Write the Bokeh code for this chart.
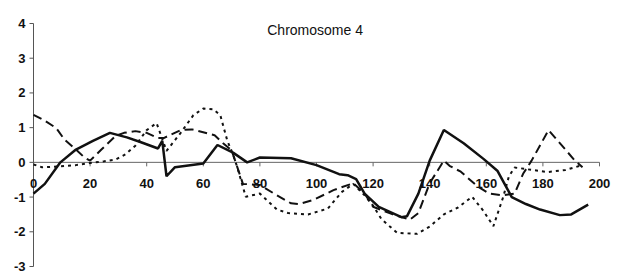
import math
from bokeh.plotting import figure
from bokeh.models import Range1d, Label
from bokeh.embed import file_html
from bokeh.resources import INLINE
from bokeh.core.properties import value

# ---- data (position in cM, LOD-like score) ----
solid_x = [0, 4, 9.5, 15, 21, 27, 33, 38, 44, 45.5, 47, 50, 60, 65, 70.5, 75.5, 80, 91,
           100, 108, 111, 114, 117, 122, 130, 132, 136, 140, 145, 152, 159, 164, 169,
           174, 179, 186, 190, 196]
solid_y = [-0.9, -0.62, 0.0, 0.37, 0.62, 0.85, 0.72, 0.58, 0.4, 0.62, -0.4, -0.14, -0.03,
           0.5, 0.28, 0.0, 0.14, 0.12, -0.08, -0.34, -0.37, -0.48, -0.9, -1.28, -1.58,
           -1.55, -0.9, 0.05, 0.93, 0.55, 0.1, -0.25, -1.0, -1.2, -1.36, -1.52, -1.5, -1.22]

dash_x = [0, 4, 8, 11, 15, 18, 20, 24, 29, 32, 36, 40, 44, 46, 52, 56, 64, 67, 70, 74,
          80, 85, 91, 94, 99, 106, 113, 117, 120, 127, 133, 136, 140, 145, 147, 151, 157,
          161, 166, 170, 173, 176, 182, 191, 194]
dash_y = [1.37, 1.2, 0.99, 0.65, 0.37, 0.14, 0.05, 0.37, 0.76, 0.85, 0.9, 0.85, 0.7, 0.7,
          0.93, 0.95, 0.78, 0.55, 0.35, -0.62, -0.65, -0.9, -1.18, -1.2, -1.08, -0.8, -0.6,
          -0.9, -1.28, -1.5, -1.65, -1.46, -0.6, 0.05, -0.1, -0.27, -0.7, -0.9, -0.95, -0.9,
          -0.33, 0.05, 0.93, 0.08, -0.14]

dot_x = [0, 3, 9, 15, 20, 25, 29, 32.5, 36, 40, 43.5, 47, 52, 56.5, 60, 63.5, 66, 68.5,
         70.5, 72, 75, 80, 86, 90, 97, 104, 109, 113, 117, 120, 123, 128.5, 135.5, 140,
         145, 150, 155, 159, 162.5, 166, 168, 170, 172, 181.5, 188, 194]
dot_y = [-0.06, -0.14, -0.12, -0.08, -0.02, 0.03, 0.08, 0.23, 0.48, 0.93, 1.13, 0.33, 0.85,
         1.36, 1.55, 1.53, 1.36, 0.62, 0.23, -0.14, -0.99, -0.9, -1.36, -1.46, -1.5, -1.33,
         -0.85, -0.62, -0.95, -1.25, -1.64, -2.03, -2.06, -1.85, -1.5, -1.3, -0.99, -1.4,
         -1.84, -0.99, -0.4, -0.15, -0.17, -0.28, -0.22, -0.08]

x_ticks = [0, 20, 40, 60, 80, 100, 120, 140, 160, 180, 200]
x_labels = ["0", "20", "40", "60", "80", "100", "120", "140", "160", "180", "200"]
y_ticks = [-3, -2, -1, 0, 1, 2, 3, 4]
y_labels = ["-3", "-2", "-1", "0", "1", "2", "3", "4"]
title_text = "Chromosome 4"

FONT = "Liberation Sans"
W, H = 613, 274
X0_PX, X200_PX = 33.0, 599.0          # where x=0 and x=200 sit
YTOP_PX, YBOT_PX = 23.0, 266.0        # where y=4 and y=-3 sit
sx = (X200_PX - X0_PX) / (x_ticks[-1] - x_ticks[0])
sy = (YBOT_PX - YTOP_PX) / (y_ticks[-1] - y_ticks[0])
xr = Range1d(x_ticks[0] - X0_PX / sx, x_ticks[0] + (W - X0_PX) / sx)
yr = Range1d(y_ticks[0] - (H - YBOT_PX) / sy, y_ticks[-1] + YTOP_PX / sy)

p = figure(width=W, height=H, x_range=xr, y_range=yr,
           output_backend="svg", toolbar_location=None,
           x_axis_location=None, y_axis_location=None,
           min_border_left=0, min_border_right=0, min_border_top=0, min_border_bottom=0)
p.outline_line_color = None
p.grid.visible = False
p.background_fill_color = "white"
p.border_fill_color = "white"

AX = "#555555"
# y axis along x = 0
p.segment(x0=[x_ticks[0]], y0=[y_ticks[0]], x1=[x_ticks[0]], y1=[y_ticks[-1]],
          line_color=AX, line_width=1)
p.ray(x=[x_ticks[0]] * len(y_ticks), y=y_ticks, length=4, length_units="screen",
      angle=math.pi, line_color=AX, line_width=1)
p.text(x=[x_ticks[0]] * len(y_ticks), y=y_ticks, text=y_labels, x_offset=-8,
       text_align="right", text_baseline="middle", text_font=value(FONT),
       text_font_style="bold", text_font_size="13px", text_color="#111111")

# x axis drawn through y = 0
p.segment(x0=[x_ticks[0]], y0=[0], x1=[x_ticks[-1]], y1=[0], line_color="#666666",
          line_width=1)
p.ray(x=x_ticks[1:], y=[0] * (len(x_ticks) - 1), length=4, length_units="screen",
      angle=-math.pi / 2, line_color="#666666", line_width=1)
p.text(x=x_ticks, y=[0] * len(x_ticks), text=x_labels, y_offset=21,
       text_align="center", text_baseline="middle", text_font=value(FONT),
       text_font_style="bold", text_font_size="13px", text_color="#111111")

p.line(dot_x, dot_y, line_color="#111111", line_width=2, line_dash="3 4")
p.line(dash_x, dash_y, line_color="#111111", line_width=2, line_dash="9 5")
p.line(solid_x, solid_y, line_color="#111111", line_width=2.5)

p.add_layout(Label(x=99.5, y=3.8, text=title_text, text_align="center",
                   text_baseline="middle", text_font=FONT, text_font_size="14px",
                   text_color="#111111"))

open("out.html", "w").write(file_html(p, INLINE))
